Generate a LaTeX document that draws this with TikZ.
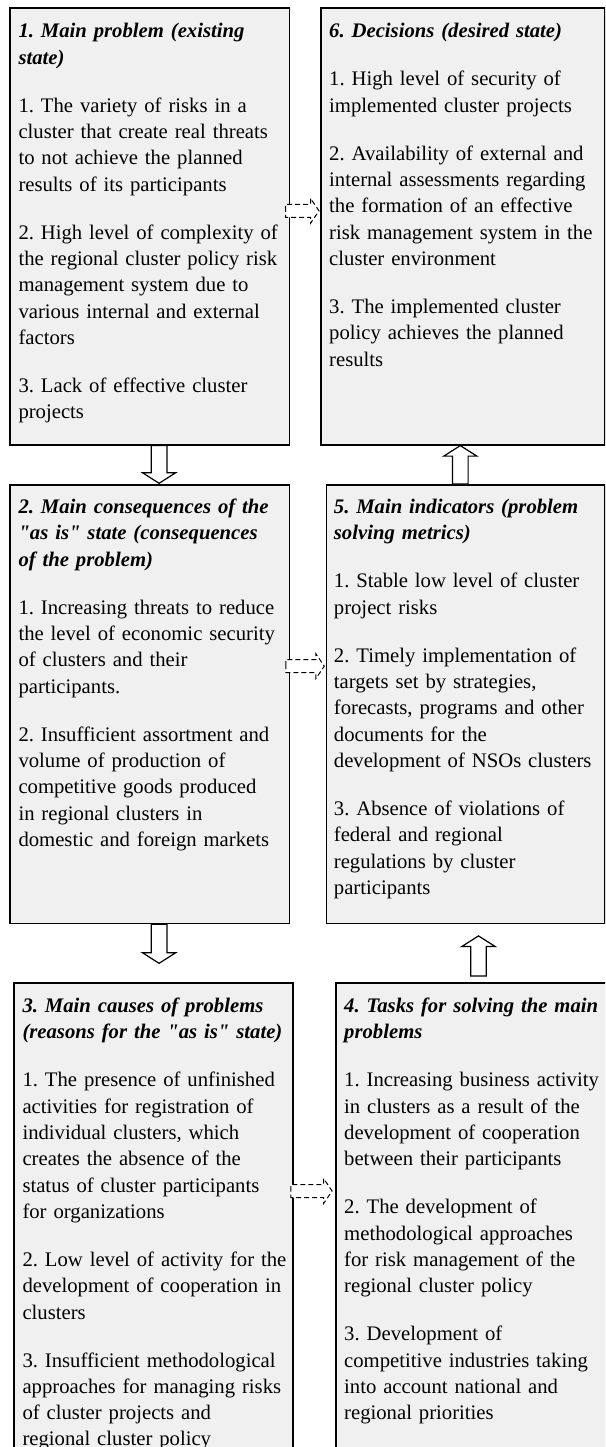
\documentclass[tikz,border=0pt]{standalone}
\usepackage{fontspec}
\setmainfont{Liberation Serif}
\usepackage{xcolor}
\usetikzlibrary{calc}
\definecolor{panelgray}{RGB}{240,240,240}
\frenchspacing

\begin{document}
\begin{tikzpicture}[x=1pt, y=-1pt,
  panel/.style={draw, line width=1.6pt, fill=panelgray, inner sep=0pt, anchor=north west},
  paneltext/.style={anchor=north west, align=left, text width=290pt, inner sep=0pt, font=\fontsize{20.7}{26.3}\selectfont},
  fatarrow/.style args={#1/#2/#3}{to path={
    -- ($(\tikztostart)!#1!90:(\tikztotarget)$)
    -- ($(\tikztotarget)!#3!(\tikztostart)!#1!-90:(\tikztostart)$)
    -- ($(\tikztotarget)!#3!(\tikztostart)!#2!-90:(\tikztostart)$)
    -- (\tikztotarget)
    -- ($(\tikztotarget)!#3!(\tikztostart)!#2!90:(\tikztostart)$)
    -- ($(\tikztotarget)!#3!(\tikztostart)!#1!90:(\tikztostart)$)
    -- ($(\tikztostart)!#1!-90:(\tikztotarget)$) -- cycle}},
  bigarrow/.style={fatarrow=7.8pt/16.5pt/10.5pt, draw, fill=white, line width=1.2pt},
  dasharrow/.style={fatarrow=6.5pt/12.5pt/8.5pt, draw, fill=white, line width=1pt, dash pattern=on 5pt off 3pt}]
\useasboundingbox (0,0) rectangle (605,1447);
\clip (0,0) rectangle (605,1447);

\node[panel, minimum width=279.4pt, minimum height=436.7pt] (prob) at (9.3,7.3) {};
\node[panel, minimum width=284pt, minimum height=436.7pt] (dec) at (320,7.3) {};
\node[panel, minimum width=279.4pt, minimum height=438.7pt] (cons) at (9.3,484) {};
\node[panel, minimum width=278.3pt, minimum height=438.7pt] (ind) at (325.7,484) {};
\node[panel, minimum width=279pt, minimum height=520pt] (cause) at (13.3,982) {};
\node[panel, minimum width=273pt, minimum height=520pt] (task) at (335,982) {};

\node[paneltext] (prob-t) at ($(prob.north west)+(9,12)$) {\strut\textbf{\textit{1. Main problem (existing\\state)}}\\[21.7pt]
1. The variety of risks in a\\cluster that create real threats\\to not achieve the planned\\results of its participants\\[21.7pt]
2. High level of complexity of\\the regional cluster policy risk\\management system due to\\various internal and external\\factors\\[21.7pt]
3. Lack of effective cluster\\projects};
\node[paneltext] (dec-t) at ($(dec.north west)+(9,12)$) {\strut\textbf{\textit{6. Decisions (desired state)}}\\[21.7pt]
1. High level of security of\\implemented cluster projects\\[21.7pt]
2. Availability of external and\\internal assessments regarding\\the formation of an effective\\risk management system in the\\cluster environment\\[21.7pt]
3. The implemented cluster\\policy achieves the planned\\results};
\node[paneltext] (cons-t) at ($(cons.north west)+(9,11)$) {\strut\textbf{\textit{2. Main consequences of the\\\textquotedbl as is\textquotedbl{} state (consequences\\of the problem)}}\\[21.7pt]
1. Increasing threats to reduce\\the level of economic security\\of clusters and their\\participants.\\[21.7pt]
2. Insufficient assortment and\\volume of production of\\competitive goods produced\\in regional clusters in\\domestic and foreign markets};
\node[paneltext] (ind-t) at ($(ind.north west)+(8,11)$) {\strut\textbf{\textit{5. Main indicators (problem\\solving metrics)}}\\[21.7pt]
1. Stable low level of cluster\\project risks\\[21.7pt]
2. Timely implementation of\\targets set by strategies,\\forecasts, programs and other\\documents for the\\development of NSOs clusters\\[21.7pt]
3. Absence of violations of\\federal and regional\\regulations by cluster\\participants};
\node[paneltext] (cause-t) at ($(cause.north west)+(9,12)$) {\strut\textbf{\textit{3. Main causes of problems\\(reasons for the \textquotedbl as is\textquotedbl{} state)}}\\[21.7pt]
1. The presence of unfinished\\activities for registration of\\individual clusters, which\\creates the absence of the\\status of cluster participants\\for organizations\\[21.7pt]
2. Low level of activity for the\\development of cooperation in\\clusters\\[21.7pt]
3. Insufficient methodological\\approaches for managing risks\\of cluster projects and\\regional cluster policy};
\node[paneltext] (task-t) at ($(task.north west)+(9,12)$) {\strut\textbf{\textit{4. Tasks for solving the main\\problems}}\\[21.7pt]
1. Increasing business activity\\in clusters as a result of the\\development of cooperation\\between their participants\\[21.7pt]
2. The development of\\methodological approaches\\for risk management of the\\regional cluster policy\\[21.7pt]
3. Development of\\competitive industries taking\\into account national and\\regional priorities};

\draw[bigarrow] ([xshift=9.3pt]prob.south) to ([xshift=9.3pt,yshift=0.7pt]cons.north);
\draw[bigarrow] ([xshift=9.3pt]cons.south) to ([xshift=5.5pt,yshift=18.7pt]cause.north);
\draw[bigarrow] ([xshift=6.2pt,yshift=6pt]task.north) to ([xshift=12.85pt,yshift=-11.6pt]ind.south);
\draw[bigarrow] ([xshift=-5.35pt]ind.north) to ([xshift=-2.5pt]dec.south);
\draw[dasharrow] ([xshift=-4.7pt,yshift=15.6pt]prob.east) to ([xshift=-1pt,yshift=15.6pt]dec.west);
\draw[dasharrow] ([xshift=-4.4pt,yshift=38pt]cons.east) to ([xshift=-1.4pt,yshift=38pt]ind.west);
\draw[dasharrow] ([xshift=-3pt,yshift=-209pt]cause.north east) to ([xshift=-2.9pt,yshift=-209pt]task.north west);
\end{tikzpicture}
\end{document}
